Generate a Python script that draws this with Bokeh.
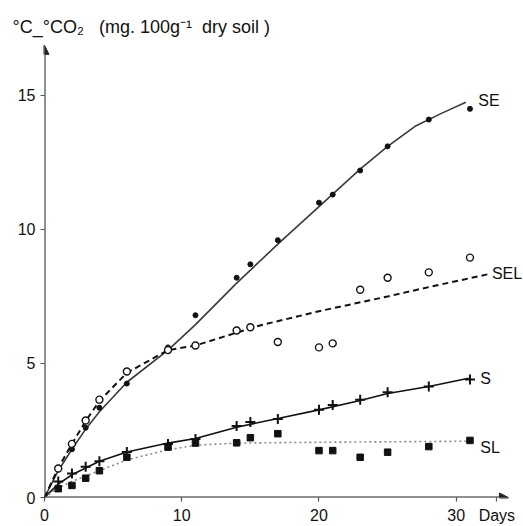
from bokeh.plotting import figure
from bokeh.models import Arrow, NormalHead, Label, FixedTicker, Range1d
from bokeh.embed import file_html
from bokeh.resources import INLINE

# ---- data ----
days = [1, 2, 3, 4, 6, 9, 11, 14, 15, 17, 20, 21, 23, 25, 28, 31]
se_pts = [1.05, 1.8, 2.6, 3.35, 4.25, 5.6, 6.8, 8.2, 8.7, 9.6, 11.0, 11.3, 12.2, 13.1, 14.1, 14.5]
sel_pts = [1.08, 2.0, 2.87, 3.65, 4.7, 5.5, 5.67, 6.23, 6.35, 5.8, 5.6, 5.75, 7.75, 8.2, 8.4, 8.95]
s_pts = [0.6, 0.9, 1.15, 1.35, 1.7, 2.0, 2.18, 2.67, 2.82, 2.93, 3.27, 3.45, 3.65, 3.93, 4.14, 4.4]
sl_pts = [0.33, 0.45, 0.72, 1.0, 1.5, 1.88, 2.03, 2.04, 2.23, 2.38, 1.75, 1.75, 1.5, 1.69, 1.9, 2.13]

# fitted curves as drawn
se_cx = [0, 1, 2, 3, 4, 6, 9, 11, 14, 17, 20, 23, 25, 27, 29, 30.7]
se_cy = [0, 1.0, 1.8, 2.55, 3.2, 4.3, 5.5, 6.45, 8.0, 9.45, 10.85, 12.25, 13.1, 13.85, 14.35, 14.75]
sel_cx = [0, 1, 2, 3, 4, 6, 9, 11, 14, 15.7, 20, 25, 28, 32.5]
sel_cy = [0, 1.1, 2.0, 2.85, 3.6, 4.65, 5.5, 5.67, 6.15, 6.42, 6.95, 7.5, 7.85, 8.35]
s_cx = [0, 1, 2, 3, 4, 6, 9, 11, 14, 17, 20, 23, 25, 28, 30.9]
s_cy = [0, 0.5, 0.85, 1.1, 1.35, 1.7, 2.03, 2.2, 2.62, 2.95, 3.27, 3.62, 3.88, 4.14, 4.45]
sl_cx = [0, 1, 2, 4, 6, 9, 11, 14, 20, 30.9]
sl_cy = [0, 0.35, 0.6, 1.0, 1.4, 1.78, 1.95, 2.03, 2.06, 2.1]

x_ticks = [0, 10, 20, 30]
y_ticks = [0, 5, 10, 15]
x_title_pos = 32.96          # where the "Days" unit label sits on the x axis
series_names = ["SE", "SEL", "S", "SL"]
series_label_x = [31.6, 32.6, 31.75, 31.75]
series_label_y = [14.81, 8.36, 4.45, 1.88]
y_title = "°C_°CO₂\u00a0\u00a0\u00a0(mg.\u00a0100g⁻¹\u00a0\u00a0dry\u00a0soil\u00a0)"
x_title = "Days"

FONT = "Liberation Sans"

p = figure(width=523, height=526, x_range=Range1d(0, 34.9), y_range=Range1d(0, 17.05),
           output_backend="svg", toolbar_location=None,
           min_border_left=44, min_border_right=0, min_border_top=40, min_border_bottom=29)
p.outline_line_color = None
p.grid.visible = False
p.background_fill_color = "white"

# title at the top left, used as the y axis caption
p.title.text = y_title
p.title.align = "left"
p.title.offset = -32
p.title.standoff = 7
p.title.text_font = FONT
p.title.text_font_size = "18px"
p.title.text_font_style = "normal"
p.title.text_color = "#111111"

p.xaxis.ticker = FixedTicker(ticks=x_ticks + [x_title_pos])
p.xaxis.major_label_overrides = {x_title_pos: x_title}
p.yaxis.ticker = FixedTicker(ticks=y_ticks)
for ax in (p.xaxis, p.yaxis):
    ax.axis_line_color = None
    ax.major_tick_in = 0
    ax.major_tick_out = 4
    ax.major_tick_line_color = "#555555"
    ax.major_tick_line_width = 1.2
    ax.minor_tick_line_color = None
    ax.major_label_text_font = FONT
    ax.major_label_text_font_size = "16px"
    ax.major_label_text_color = "#111111"
p.xaxis.major_label_standoff = 5
p.yaxis.major_label_standoff = 5

# axes with arrows
p.add_layout(Arrow(x_start=0, y_start=0, x_end=33.8, y_end=0, line_width=2, line_color="#222222",
                   end=NormalHead(size=9, fill_color="#222222", line_color="#222222")))
p.add_layout(Arrow(x_start=0, y_start=0, x_end=0, y_end=16.87, line_width=2, line_color="#222222",
                   end=NormalHead(size=9, fill_color="#222222", line_color="#222222")))

# curves
p.line(se_cx, se_cy, line_color="#3a3a3a", line_width=1.6)
p.line(sel_cx, sel_cy, line_color="#111111", line_width=2, line_dash="6 4")
p.line(s_cx, s_cy, line_color="#111111", line_width=1.6)
p.line(sl_cx, sl_cy, line_color="#8a8a8a", line_width=1.6, line_dash="2 3")

# points
p.scatter(days, se_pts, marker="circle", size=5, fill_color="#111111", line_color="#111111")
p.scatter(days, sel_pts, marker="circle", size=7, fill_color="white", line_color="#111111", line_width=1.4)
p.scatter(days, s_pts, marker="cross", size=10, line_color="#111111", line_width=2)
p.scatter(days, sl_pts, marker="square", size=6.5, fill_color="#111111", line_color="#111111")

for name, lx, ly in zip(series_names, series_label_x, series_label_y):
    p.add_layout(Label(x=lx, y=ly, text=name, text_font=FONT, text_font_size="16px",
                       text_baseline="middle", text_align="left", text_color="#111111"))

open("out.html", "w").write(file_html(p, INLINE))
